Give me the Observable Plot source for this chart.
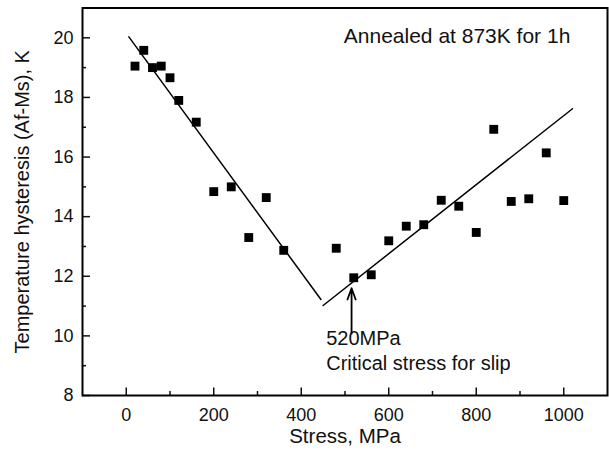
<!DOCTYPE html>
<html>
<head>
<meta charset="utf-8">
<script src="https://cdn.jsdelivr.net/npm/d3@7"></script>
<script src="https://cdn.jsdelivr.net/npm/@observablehq/plot@0.6"></script>
<style>
  html, body { margin: 0; padding: 0; background: #fff; }
  #chart svg { display: block; }
</style>
</head>
<body>
<div id="chart"></div>
<script>
// Measured data points
const stress = [20, 40, 60, 80, 100, 120, 160, 200, 240, 280, 320, 360,
                480, 520, 560, 600, 640, 680, 720, 760, 800, 840, 880, 920, 960, 1000];
const hysteresis = [19.05, 19.58, 19.0, 19.05, 18.66, 17.9, 17.17, 14.84, 15.0, 13.3, 14.64, 12.87,
                    12.94, 11.95, 12.05, 13.19, 13.68, 13.73, 14.55, 14.35, 13.47, 16.93, 14.51, 14.6, 16.14, 14.54];

// Fitted lines (two segments)
const fit1X = [6, 445];
const fit1Y = [20.03, 11.22];
const fit2X = [450, 1020];
const fit2Y = [11.02, 17.62];

// Ticks
const xMajorTicks = [0, 200, 400, 600, 800, 1000];
const xMinorTicks = [100, 300, 500, 700, 900];
const yMajorTicks = [8, 10, 12, 14, 16, 18, 20];
const yMinorTicks = [9, 11, 13, 15, 17, 19];

// Annotations
const titleText = ["Annealed at 873K for 1h"];
const titleX = [1015];
const titleY = [20.05];
const noteLines = ["520MPa", "Critical stress for slip"];
const noteX = [457, 457];
const noteY = [9.91, 9.07];
const arrowX = [515];
const arrowY1 = [10.08];
const arrowY2 = [11.6];

const xLabel = "Stress, MPa";
const yLabel = "Temperature hysteresis (Af-Ms), K";

const points = stress.map((s, i) => ({x: s, y: hysteresis[i]}));
const fit1 = fit1X.map((x, i) => ({x, y: fit1Y[i]}));
const fit2 = fit2X.map((x, i) => ({x, y: fit2Y[i]}));
const title = titleText.map((t, i) => ({t, x: titleX[i], y: titleY[i]}));
const notes = noteLines.map((t, i) => ({t, x: noteX[i], y: noteY[i]}));
const arrows = arrowX.map((x, i) => ({x, y1: arrowY1[i], y2: arrowY2[i]}));

const font = "'Liberation Sans', Arial, Helvetica, sans-serif";

const chart = Plot.plot({
  width: 609,
  height: 454,
  marginLeft: 82,
  marginRight: 2,
  marginTop: 7.5,
  marginBottom: 59,
  style: {fontFamily: font, fontSize: "17px", color: "#111", background: "#fff"},
  x: {domain: [-100, 1100]},
  y: {domain: [8, 21]},
  marks: [
    Plot.axisX(xMajorTicks, {tickSize: -7.5, tickFormat: () => null, label: null, strokeWidth: 1.5}),
    Plot.axisX(xMinorTicks, {tickSize: -4, tickFormat: () => null, label: null, strokeWidth: 1.5}),
    Plot.axisY(yMajorTicks, {tickSize: -8, tickFormat: () => null, label: null, strokeWidth: 1.5}),
    Plot.axisY(yMinorTicks, {tickSize: -4, tickFormat: () => null, label: null, strokeWidth: 1.5}),
    Plot.text(xMajorTicks, {x: d => d, frameAnchor: "bottom", textAnchor: "middle", lineAnchor: "middle", dy: 20, text: d => String(d), fontSize: 18, fill: "#111"}),
    Plot.text(yMajorTicks, {y: d => d, frameAnchor: "left", textAnchor: "end", lineAnchor: "middle", dx: -9, text: d => String(d), fontSize: 18, fill: "#111"}),
    Plot.frame({stroke: "#000", strokeWidth: 2}),
    Plot.line(fit1, {x: "x", y: "y", stroke: "#000", strokeWidth: 1.5}),
    Plot.line(fit2, {x: "x", y: "y", stroke: "#000", strokeWidth: 1.5}),
    Plot.dot(points, {x: "x", y: "y", symbol: "square", r: 5, fill: "#000", stroke: "none"}),
    Plot.arrow(arrows, {x1: "x", x2: "x", y1: "y1", y2: "y2", stroke: "#000", strokeWidth: 1.8, headLength: 10, headAngle: 40, bend: 0}),
    Plot.text(title, {x: "x", y: "y", text: "t", textAnchor: "end", fontSize: 21, fill: "#111"}),
    Plot.text(notes, {x: "x", y: "y", text: "t", textAnchor: "start", fontSize: 20, fill: "#111"}),
    Plot.text([xLabel], {frameAnchor: "bottom", textAnchor: "middle", dy: 47.5, text: d => d, fontSize: 20.5, fill: "#111"}),
    Plot.text([yLabel], {frameAnchor: "left", textAnchor: "middle", dx: -60, rotate: -90, text: d => d, fontSize: 20, fill: "#111"})
  ]
});

document.getElementById("chart").appendChild(chart);
</script>
</body>
</html>
